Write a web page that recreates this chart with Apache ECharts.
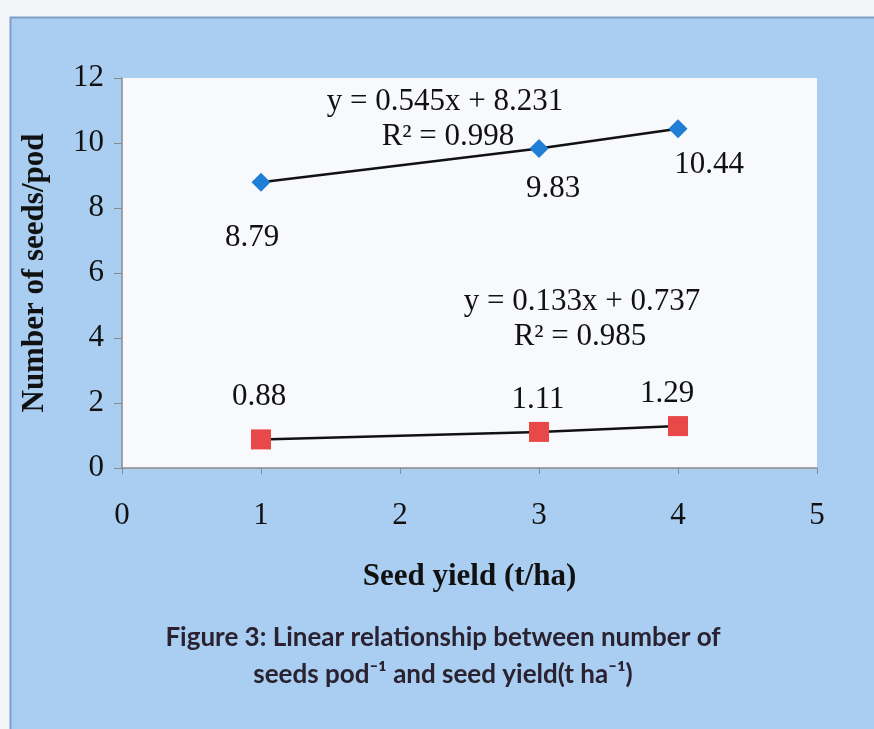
<!DOCTYPE html>
<html>
<head>
<meta charset="utf-8">
<script src="https://cdn.jsdelivr.net/npm/echarts@6/dist/echarts.min.js"></script>
<style>
html,body{margin:0;padding:0;background:#f3f5f9;}
#c{width:874px;height:729px;}
</style>
</head>
<body>
<div id="c"></div>
<script>
const seedYield = [1, 3, 4];
const seedsPerPod = [8.79, 9.83, 10.44];
const otherSeries = [0.88, 1.11, 1.29];
const xTicks = [0, 1, 2, 3, 4, 5];
const yTicks = [0, 2, 4, 6, 8, 10, 12];
const eq1 = ['y = 0.545x + 8.231', 'R² = 0.998'];
const eq2 = ['y = 0.133x + 0.737', 'R² = 0.985'];
const xTitle = 'Seed yield (t/ha)';
const yTitle = 'Number of seeds/pod';
const caption = ['Figure 3: Linear relationship between number of', 'seeds pod\u207B\u00B9 and seed yield(t ha\u207B\u00B9)'];

const offs1 = [[-9, 56], [14, 40], [31, 36]];
const offs2 = [[-2, -43], [-1, -32], [-11, -32]];

const serif = '"Liberation Serif", "Times New Roman", serif';
const lblStyle = {fontFamily: serif, fontSize: 31, color: '#111'};

function mk(vals, offs) {
  return vals.map((v, i) => ({
    value: [seedYield[i], v],
    label: {show: true, position: 'inside', offset: offs[i], formatter: String(v), ...lblStyle, align: 'center', verticalAlign: 'middle'}
  }));
}

const eqFont = '31px ' + serif;
const capFont = 'bold 26px Lato, "Open Sans", sans-serif';

const chart = echarts.init(document.getElementById('c'));
chart.setOption({
  backgroundColor: '#f3f5f9',
  animation: false,
  graphic: [
    {type: 'rect', z: -10, shape: {x: 10.5, y: 17.5, width: 870, height: 720},
     style: {fill: '#a9cef1', stroke: '#7f9fc8', lineWidth: 2}},
    {type: 'text', x: 445, y: 102, style: {text: eq1[0], font: eqFont, fill: '#111', textAlign: 'center', textVerticalAlign: 'middle'}},
    {type: 'text', x: 448, y: 137, style: {text: eq1[1], font: eqFont, fill: '#111', textAlign: 'center', textVerticalAlign: 'middle'}},
    {type: 'text', x: 582, y: 302, style: {text: eq2[0], font: eqFont, fill: '#111', textAlign: 'center', textVerticalAlign: 'middle'}},
    {type: 'text', x: 580, y: 337, style: {text: eq2[1], font: eqFont, fill: '#111', textAlign: 'center', textVerticalAlign: 'middle'}},
    {type: 'text', x: 443, y: 638, style: {text: caption[0], font: capFont, fill: '#2a2230', textAlign: 'center', textVerticalAlign: 'middle'}},
    {type: 'text', x: 443, y: 675, style: {text: caption[1], font: capFont, fill: '#2a2230', textAlign: 'center', textVerticalAlign: 'middle'}}
  ],
  grid: {left: 122, right: 57, top: 78, bottom: 261, show: true, backgroundColor: '#f8f9fd', borderWidth: 0},
  xAxis: {
    type: 'value', min: xTicks[0], max: xTicks[xTicks.length - 1], interval: 1,
    name: xTitle, nameLocation: 'middle', nameGap: 93,
    nameTextStyle: {fontFamily: serif, fontSize: 31, fontWeight: 'bold', color: '#111'},
    axisLine: {show: true, lineStyle: {color: '#8a8a8a', width: 1.5}},
    axisTick: {show: true, length: 6, lineStyle: {color: '#8a8a8a'}},
    axisLabel: {fontFamily: serif, fontSize: 31, color: '#111', margin: 32},
    splitLine: {show: false}
  },
  yAxis: {
    type: 'value', min: yTicks[0], max: yTicks[yTicks.length - 1], interval: 2,
    name: yTitle, nameLocation: 'middle', nameGap: 72, nameRotate: 90,
    nameTextStyle: {fontFamily: serif, fontSize: 31, fontWeight: 'bold', color: '#111'},
    axisLine: {show: true, lineStyle: {color: '#8a8a8a', width: 1.5}},
    axisTick: {show: true, length: 8, lineStyle: {color: '#8a8a8a'}},
    axisLabel: {fontFamily: serif, fontSize: 31, color: '#111', margin: 18},
    splitLine: {show: false}
  },
  series: [
    {type: 'line', data: mk(seedsPerPod, offs1), symbol: 'diamond', symbolSize: 19,
     itemStyle: {color: '#1f7fd6'}, lineStyle: {color: '#111', width: 2.5}, z: 3},
    {type: 'line', data: mk(otherSeries, offs2), symbol: 'rect', symbolSize: 20,
     itemStyle: {color: '#e84848'}, lineStyle: {color: '#111', width: 2.5}, z: 3}
  ]
});
</script>
</body>
</html>
